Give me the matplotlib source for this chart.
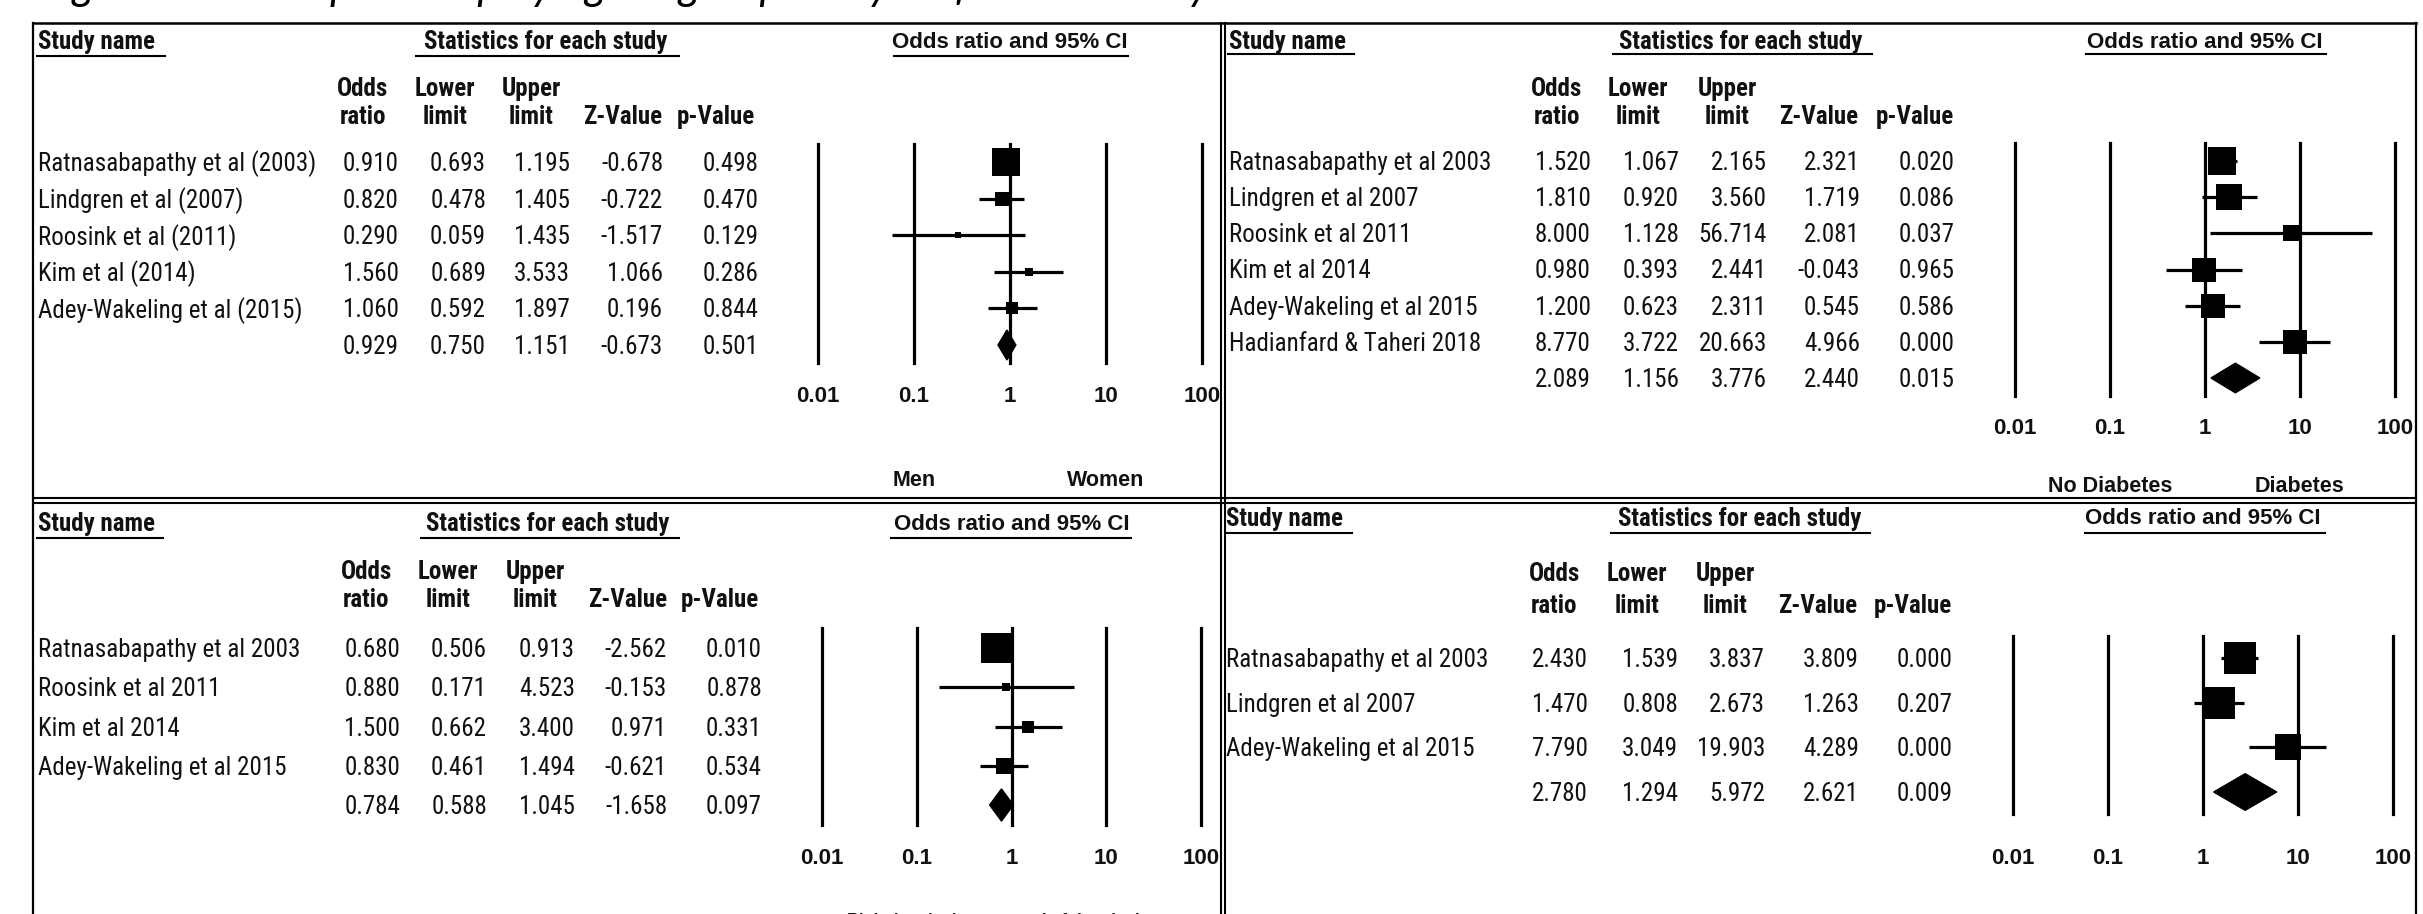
import numpy as np
import matplotlib
matplotlib.use("Agg")
import matplotlib.pyplot as plt
from matplotlib.lines import Line2D
from matplotlib.patches import Polygon

# ---------------- data ----------------
sex_names = ["Ratnasabapathy et al (2003)", "Lindgren et al (2007)", "Roosink et al (2011)",
             "Kim et al (2014)", "Adey-Wakeling et al (2015)"]
sex_or = [0.910, 0.820, 0.290, 1.560, 1.060]
sex_lower = [0.693, 0.478, 0.059, 0.689, 0.592]
sex_upper = [1.195, 1.405, 1.435, 3.533, 1.897]
sex_z = [-0.678, -0.722, -1.517, 1.066, 0.196]
sex_p = [0.498, 0.470, 0.129, 0.286, 0.844]
sex_weight = [62.0, 17.0, 3.0, 5.5, 12.5]
sex_summary = [0.929, 0.750, 1.151, -0.673, 0.501]
sex_sides = ["Men", "Women"]

dm_names = ["Ratnasabapathy et al 2003", "Lindgren et al 2007", "Roosink et al 2011",
            "Kim et al 2014", "Adey-Wakeling et al 2015", "Hadianfard & Taheri 2018"]
dm_or = [1.520, 1.810, 8.000, 0.980, 1.200, 8.770]
dm_lower = [1.067, 0.920, 1.128, 0.393, 0.623, 3.722]
dm_upper = [2.165, 3.560, 56.714, 2.441, 2.311, 20.663]
dm_z = [2.321, 1.719, 2.081, -0.043, 0.545, 4.966]
dm_p = [0.020, 0.086, 0.037, 0.965, 0.586, 0.000]
dm_weight = [23.4, 19.4, 7.1, 15.8, 18.6, 15.8]
dm_summary = [2.089, 1.156, 3.776, 2.440, 0.015]
dm_sides = ["No Diabetes", "Diabetes"]

hemi_names = ["Ratnasabapathy et al 2003", "Roosink et al 2011", "Kim et al 2014",
              "Adey-Wakeling et al 2015"]
hemi_or = [0.680, 0.880, 1.500, 0.830]
hemi_lower = [0.506, 0.171, 0.662, 0.461]
hemi_upper = [0.913, 4.523, 3.400, 1.494]
hemi_z = [-2.562, -0.153, 0.971, -0.621]
hemi_p = [0.010, 0.878, 0.331, 0.534]
hemi_weight = [65.8, 4.1, 11.4, 18.7]
hemi_summary = [0.784, 0.588, 1.045, -1.658, 0.097]
hemi_sides = ["Right hemisphere", "Left hemisphere"]

hx_names = ["Ratnasabapathy et al 2003", "Lindgren et al 2007", "Adey-Wakeling et al 2015"]
hx_or = [2.430, 1.470, 7.790]
hx_lower = [1.539, 0.808, 3.049]
hx_upper = [3.837, 2.673, 19.903]
hx_z = [3.809, 1.263, 4.289]
hx_p = [0.000, 0.207, 0.000]
hx_weight = [36.9, 36.9, 26.1]
hx_summary = [2.780, 1.294, 5.972, 2.621, 0.009]
hx_sides = ["No History", "History of shoulder pain"]

axis_ticks = [0.01, 0.1, 1, 10, 100]
axis_tick_labels = ["0.01", "0.1", "1", "10", "100"]
col_head_1 = ["Odds", "Lower", "Upper", "", ""]
col_head_2 = ["ratio", "limit", "limit", "Z-Value", "p-Value"]

title_text = "Figure 2. Forest plots displaying subgroup analyses for each study"

# ---------------- figure ----------------
W, H = 2423, 914
DPI = 100
fig = plt.figure(figsize=(W / DPI, H / DPI), dpi=DPI)
fig.patch.set_facecolor("white")

NARROW = ["Roboto Condensed", "DejaVu Sans"]
ARIAL = ["Liberation Sans", "DejaVu Sans"]
TXT = "#111111"
LW = 2.3
FS = 18


def fx(x):
    return x / W


def fy(y):
    return 1 - y / H


def fig_line(x0, x1, y0, y1, lw=1.5):
    fig.add_artist(Line2D([fx(x0), fx(x1)], [fy(y0), fy(y1)], color="k", lw=lw,
                          transform=fig.transFigure))


def draw_panel(names, odds, lower, upper, zval, pval, weight, summary, sides, L):
    n = len(names) + 1
    s = (L["y_last"] - L["y_first"]) / (n - 1)
    top = L["y_first"] - s / 2
    bot = L["y_last"] + s / 2

    def row(y):
        return (y - L["y_first"]) / s

    dy = 2.0 / s  # small visual offset (pixels -> rows)

    # table axes (x in pixels, y in rows)
    axt = fig.add_axes([0, fy(bot), 1, (bot - top) / H])
    axt.set_xlim(0, W)
    axt.set_ylim(n - 0.5, -0.5)
    axt.axis("off")

    # forest axes (log x)
    axf = fig.add_axes([fx(L["x0"]), fy(bot), fx(L["x1"]) - fx(L["x0"]), (bot - top) / H])
    axf.set_xscale("log")
    axf.set_xlim(axis_ticks[0], axis_ticks[-1])
    axf.set_ylim(n - 0.5, -0.5)
    axf.axis("off")

    # headers
    axt.text(L["name_x"], row(L["y_title"]) + dy, "Study name", ha="left", va="center",
             fontsize=FS, fontweight="bold", family=NARROW, color=TXT)
    axt.plot(L["study_ul"], [row(L["y_ul"])] * 2, color="k", lw=1.5, clip_on=False)
    axt.text(L["stats_cx"], row(L["y_title"]) + dy, "Statistics for each study", ha="center",
             va="center", fontsize=FS, fontweight="bold", family=NARROW, color=TXT)
    axt.plot(L["stats_ul"], [row(L["y_ul"])] * 2, color="k", lw=1.5, clip_on=False)
    axf.text(1, row(L["y_title"]) + dy, "Odds ratio and 95% CI", ha="center", va="center",
             fontsize=16, fontweight="bold", family=ARIAL, color=TXT)
    axt.plot(L["or_ul"], [row(L["y_ul"])] * 2, color="k", lw=1.5, clip_on=False)

    for cx, h1, h2 in zip(L["hdr_cx"], col_head_1, col_head_2):
        if h1:
            axt.text(cx, row(L["hdr_y1"]) + dy, h1, ha="center", va="center", fontsize=FS,
                     fontweight="bold", family=NARROW, color=TXT)
        axt.text(cx, row(L["hdr_y2"]) + dy, h2, ha="center", va="center", fontsize=FS,
                 fontweight="bold", family=NARROW, color=TXT)

    # rows
    for i, nm in enumerate(names):
        axt.text(L["name_x"], i + dy, nm, ha="left", va="center", fontsize=FS,
                 family=NARROW, color=TXT)
        vals = [odds[i], lower[i], upper[i], zval[i], pval[i]]
        for rx, v in zip(L["num_rx"], vals):
            axt.text(rx, i + dy, f"{v:.3f}", ha="right", va="center", fontsize=FS,
                     family=NARROW, color=TXT)
    for rx, v in zip(L["num_rx"], summary):
        axt.text(rx, n - 1 + dy, f"{v:.3f}", ha="right", va="center", fontsize=FS,
                 family=NARROW, color=TXT)

    # forest
    for t in axis_ticks:
        axf.axvline(t, color="k", lw=LW, clip_on=False, zorder=1)
    wmax = max(weight)
    for i in range(len(names)):
        axf.hlines(i, lower[i], upper[i], color="k", lw=LW, zorder=2)
        side = L["box_max"] * np.sqrt(weight[i] / wmax)
        axf.plot([odds[i]], [i], marker="s", ms=side * 72 / DPI, color="k", mew=0,
                 lw=0, zorder=3)
    so, sl, su = summary[0], summary[1], summary[2]
    hh = 0.41
    axf.add_patch(Polygon([(sl, n - 1), (so, n - 1 - hh), (su, n - 1), (so, n - 1 + hh)],
                          closed=True, facecolor="k", edgecolor="k", lw=1, zorder=3))

    for t, lab in zip(axis_ticks, axis_tick_labels):
        axf.text(t, row(L["tick_y"]) + dy, lab, ha="center", va="center", fontsize=16,
                 fontweight="bold", family=ARIAL, color=TXT)
    axf.text(0.1, row(L["side_y"]) + dy, sides[0], ha="center", va="center",
             fontsize=L["side_fs"], fontweight="bold", family=ARIAL, color=TXT)
    axf.text(10, row(L["side_y"]) + dy, sides[1], ha="center", va="center",
             fontsize=L["side_fs"], fontweight="bold", family=ARIAL, color=TXT)


TL = dict(y_first=162, y_last=345, x0=818, x1=1202, name_x=38, y_title=40, y_ul=56,
          study_ul=[37, 165], stats_cx=546, stats_ul=[416, 679], or_ul=[894, 1128],
          hdr_y1=87, hdr_y2=115, hdr_cx=[363, 445, 531, 623, 716],
          num_rx=[399, 486, 570, 663, 759], tick_y=395, side_y=478, side_fs=15.5,
          box_max=27.5)
TR = dict(y_first=161, y_last=378, x0=2015, x1=2395, name_x=1229, y_title=40, y_ul=54,
          study_ul=[1228, 1354], stats_cx=1741, stats_ul=[1613, 1872], or_ul=[2086, 2326],
          hdr_y1=87, hdr_y2=115, hdr_cx=[1557, 1638, 1727, 1819, 1915],
          num_rx=[1591, 1679, 1767, 1860, 1955], tick_y=427, side_y=485, side_fs=15.5,
          box_max=28)
BL = dict(y_first=648, y_last=805, x0=822, x1=1201, name_x=38, y_title=522, y_ul=538,
          study_ul=[37, 163], stats_cx=548, stats_ul=[421, 679], or_ul=[891, 1131],
          hdr_y1=570, hdr_y2=598, hdr_cx=[366, 448, 535, 628, 720],
          num_rx=[400, 487, 575, 667, 762], tick_y=857, side_y=919, side_fs=12,
          box_max=30)
BR = dict(y_first=658, y_last=792, x0=2013, x1=2393, name_x=1226, y_title=517, y_ul=533,
          study_ul=[1225, 1352], stats_cx=1740, stats_ul=[1611, 1870], or_ul=[2085, 2325],
          hdr_y1=572, hdr_y2=604, hdr_cx=[1554, 1637, 1725, 1818, 1913],
          num_rx=[1588, 1678, 1765, 1859, 1953], tick_y=857, side_y=918, side_fs=8.5,
          box_max=31.5)

draw_panel(sex_names, sex_or, sex_lower, sex_upper, sex_z, sex_p, sex_weight, sex_summary,
           sex_sides, TL)
draw_panel(dm_names, dm_or, dm_lower, dm_upper, dm_z, dm_p, dm_weight, dm_summary,
           dm_sides, TR)
draw_panel(hemi_names, hemi_or, hemi_lower, hemi_upper, hemi_z, hemi_p, hemi_weight,
           hemi_summary, hemi_sides, BL)
draw_panel(hx_names, hx_or, hx_lower, hx_upper, hx_z, hx_p, hx_weight, hx_summary,
           hx_sides, BR)

# frames
fig_line(33, 2416, 23, 23, lw=1.8)
fig_line(33, 33, 23, 914, lw=1.6)
fig_line(2416, 2416, 23, 914, lw=1.6)
fig_line(1221, 1221, 23, 914, lw=1.5)
fig_line(1225, 1225, 23, 914, lw=1.5)
fig_line(33, 2416, 498, 498, lw=1.5)
fig_line(33, 2416, 503, 503, lw=1.5)

# title, cut off at the top edge as in the reference (only descenders show)
fig.text(fx(40), fy(0), title_text, ha="left", va="baseline", fontsize=31,
         style="italic", family=["Lato", "DejaVu Sans"], color="k")

fig.savefig("out.png", dpi=DPI, facecolor="white")
